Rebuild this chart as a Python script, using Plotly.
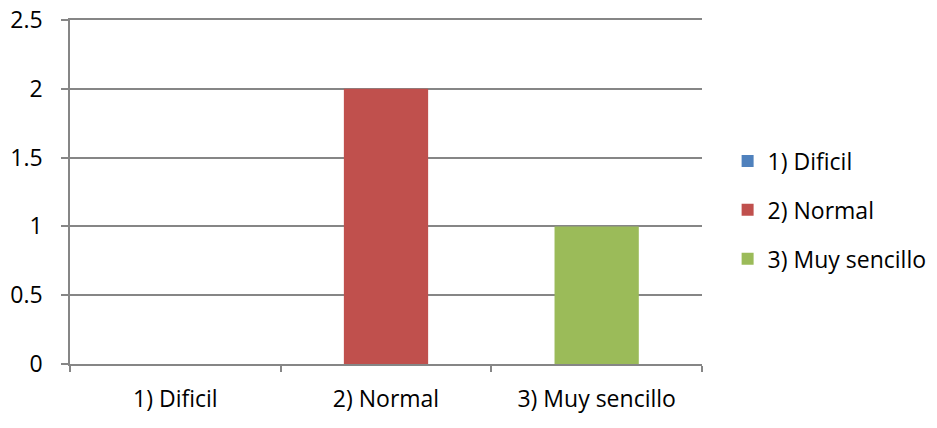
import plotly.graph_objects as go

categories = ["1) Dificil", "2) Normal", "3) Muy sencillo"]
values = [0, 2, 1]
colors = ["#4F81BD", "#C0504D", "#9BBB59"]
y_ticks = [0, 0.5, 1, 1.5, 2, 2.5]
y_tick_labels = ["0", "0.5", "1", "1.5", "2", "2.5"]

fig = go.Figure()
for i, (c, v, col) in enumerate(zip(categories, values, colors)):
    fig.add_trace(go.Bar(x=[c], y=[v], name=c, marker=dict(color=col, line=dict(width=0)),
                         width=0.4, legendgroup=f"g{i}"))

gray = "#868686"
fig.update_layout(
    width=937, height=428,
    margin=dict(l=62, r=243, t=12, b=72, autoexpand=False),
    paper_bgcolor="white", plot_bgcolor="white",
    barmode="overlay",
    font=dict(family="Open Sans, sans-serif", size=23, color="black"),
    showlegend=True,
    legend=dict(xref="container", yref="container", x=0.768, y=0.528,
                xanchor="left", yanchor="middle",
                tracegroupgap=16, font=dict(size=23),
                itemwidth=30),
    xaxis=dict(type="category", categoryarray=categories, tickson="boundaries",
               ticks="outside", ticklen=6, tickcolor=gray, tickwidth=1.5,
               showline=True, linecolor=gray, linewidth=1.5, showgrid=False,
               mirror=True,
               tickfont=dict(size=23), ticklabelstandoff=14, automargin=False),
    yaxis=dict(range=[0, 2.5], tickvals=y_ticks, ticktext=y_tick_labels,
               ticks="outside", ticklen=7, tickcolor=gray, tickwidth=1.5,
               showline=True, linecolor=gray, linewidth=1.5,
               showgrid=True, gridcolor=gray, gridwidth=1.5, zeroline=False,
               tickfont=dict(size=23), ticklabelstandoff=14, automargin=False,
               ticklabeloverflow="allow"),
)
fig.write_html("out.html")
